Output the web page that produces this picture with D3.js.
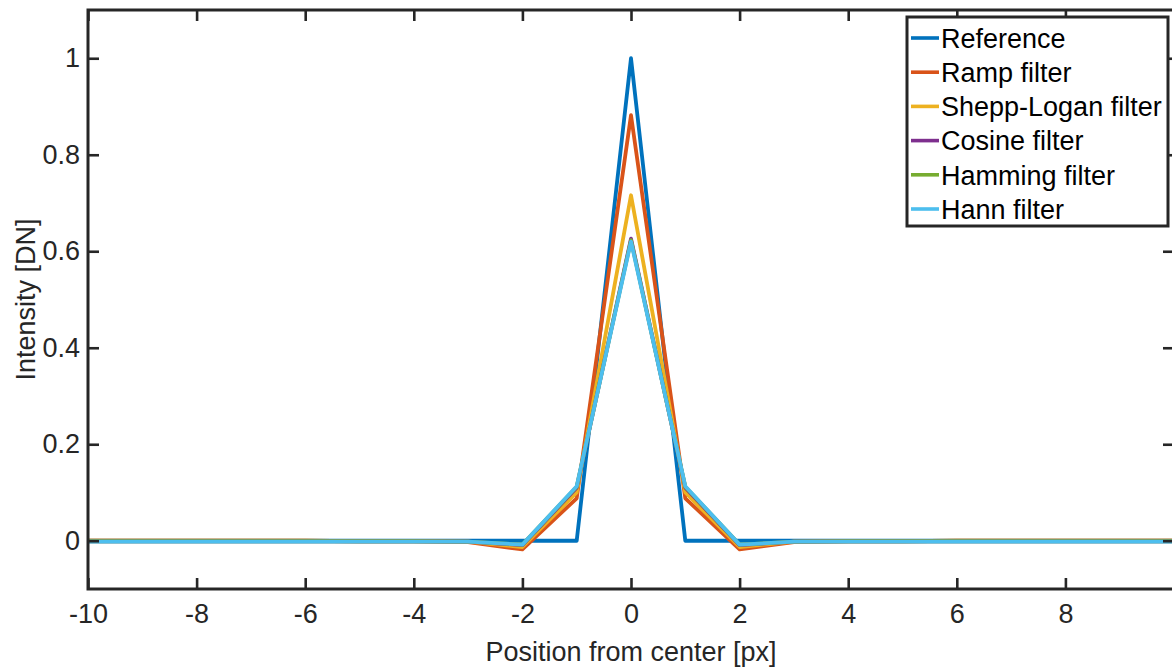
<!DOCTYPE html>
<html>
<head>
<meta charset="utf-8">
<script src="https://cdn.jsdelivr.net/npm/d3@7"></script>
<style>
  html, body { margin: 0; padding: 0; background: #fff; }
  svg { display: block; font-family: "Liberation Sans", Arial, sans-serif; }
</style>
</head>
<body>
<svg id="chart" width="1172" height="668"></svg>
<script>
// ---- data ----
const positions   = [-10, -9, -8, -7, -6, -5, -4, -3, -2, -1, 0, 1, 2, 3, 4, 5, 6, 7, 8, 9, 10];
const reference   = [0, 0, 0, 0, 0, 0, 0, 0, 0, 0, 1, 0, 0, 0, 0, 0, 0, 0, 0, 0, 0];
const rampFilter  = [0, 0, 0, 0, 0, -0.001, -0.001, -0.003, -0.018, 0.088, 0.882, 0.088, -0.018, -0.003, -0.001, -0.001, 0, 0, 0, 0, 0];
const sheppLogan  = [0, 0, 0, 0, 0, -0.001, -0.001, -0.002, -0.013, 0.100, 0.716, 0.100, -0.013, -0.002, -0.001, -0.001, 0, 0, 0, 0, 0];
const cosineFilt  = [-0.001, -0.001, -0.001, -0.001, -0.001, -0.001, -0.001, -0.002, -0.009, 0.110, 0.626, 0.110, -0.009, -0.002, -0.001, -0.001, -0.001, -0.001, -0.001, -0.001, -0.001];
const hammingFilt = [-0.001, -0.001, -0.001, -0.001, -0.001, -0.001, -0.001, -0.002, -0.008, 0.112, 0.623, 0.112, -0.008, -0.002, -0.001, -0.001, -0.001, -0.001, -0.001, -0.001, -0.001];
const hannFilt    = [-0.002, -0.002, -0.002, -0.002, -0.002, -0.002, -0.002, -0.002, -0.008, 0.113, 0.620, 0.113, -0.008, -0.002, -0.002, -0.002, -0.002, -0.002, -0.002, -0.002, -0.002];

const seriesNames  = ["Reference", "Ramp filter", "Shepp-Logan filter", "Cosine filter", "Hamming filter", "Hann filter"];
const seriesValues = [reference, rampFilter, sheppLogan, cosineFilt, hammingFilt, hannFilt];
const seriesColors = ["#0072BD", "#D95319", "#EDB120", "#7E2F8E", "#77AC30", "#4DBEEE"];

const xTicks = [-10, -8, -6, -4, -2, 0, 2, 4, 6, 8];
const yTicks = [0, 0.2, 0.4, 0.6, 0.8, 1];
const xTickLabels = ["-10", "-8", "-6", "-4", "-2", "0", "2", "4", "6", "8"];
const yTickLabels = ["0", "0.2", "0.4", "0.6", "0.8", "1"];
const xLabel = "Position from center [px]";
const yLabel = "Intensity [DN]";

// ---- layout ----
const svg = d3.select("#chart");
const L = 88, T = 10, R = 1174, B = 589;
const axisColor = "#262626";
const fs = 27;

const x = d3.scaleLinear().domain([-10, 10]).range([L, R]);
const y = d3.scaleLinear().domain([-0.1, 1.1]).range([B, T]);

// lines
const line = d3.line().x((d, i) => x(positions[i])).y(d => y(d));
seriesValues.forEach((vals, k) => {
  svg.append("path")
    .datum(vals)
    .attr("d", line)
    .attr("fill", "none")
    .attr("stroke", seriesColors[k])
    .attr("stroke-width", 3.8)
    .attr("stroke-linejoin", "round");
});

// axes (box with inward ticks)
const tickLen = 11;
const gAx = svg.append("g");
const axBottom = gAx.append("g").attr("transform", `translate(0,${B})`)
  .call(d3.axisBottom(x).tickValues(xTicks).tickSizeInner(-tickLen).tickSizeOuter(0).tickPadding(15)
    .tickFormat((d, i) => xTickLabels[i]));
const axTop = gAx.append("g").attr("transform", `translate(0,${T})`)
  .call(d3.axisTop(x).tickValues(xTicks).tickSizeInner(-tickLen).tickSizeOuter(0).tickFormat(""));
const axLeft = gAx.append("g").attr("transform", `translate(${L},0)`)
  .call(d3.axisLeft(y).tickValues(yTicks).tickSizeInner(-tickLen).tickSizeOuter(0).tickPadding(8)
    .tickFormat((d, i) => yTickLabels[i]));
const axRight = gAx.append("g").attr("transform", `translate(${R},0)`)
  .call(d3.axisRight(y).tickValues(yTicks).tickSizeInner(-tickLen).tickSizeOuter(0).tickFormat(""));

[axBottom, axTop, axLeft, axRight].forEach(g => {
  g.select(".domain").remove();
  g.selectAll(".tick line").attr("stroke", axisColor).attr("stroke-width", 2.6);
  g.selectAll(".tick text").attr("fill", axisColor).attr("font-size", fs)
    .attr("font-family", "Liberation Sans, Arial, sans-serif");
});

gAx.append("rect")
  .attr("x", L).attr("y", T).attr("width", R - L).attr("height", B - T)
  .attr("fill", "none").attr("stroke", axisColor).attr("stroke-width", 3);

// axis labels
svg.append("text")
  .attr("x", x(0))
  .attr("y", 661)
  .attr("text-anchor", "middle")
  .attr("fill", axisColor)
  .attr("font-size", fs)
  .text(xLabel);

svg.append("text")
  .attr("transform", `translate(35,${(T + B) / 2}) rotate(-90)`)
  .attr("text-anchor", "middle")
  .attr("fill", axisColor)
  .attr("font-size", fs)
  .text(yLabel);

// legend
const lg = svg.append("g");
const lgX = 907, lgY = 17, lgW = 261, lgH = 209;
lg.append("rect")
  .attr("x", lgX).attr("y", lgY).attr("width", lgW).attr("height", lgH)
  .attr("fill", "#fff").attr("stroke", axisColor).attr("stroke-width", 3);
const rowY = d3.scaleLinear().domain([0, seriesNames.length - 1]).range([38, 209]);
seriesNames.forEach((name, k) => {
  const yy = rowY(k);
  lg.append("line")
    .attr("x1", 911).attr("x2", 939).attr("y1", yy).attr("y2", yy)
    .attr("stroke", seriesColors[k]).attr("stroke-width", 3.6);
  lg.append("text")
    .attr("x", 941).attr("y", yy)
    .attr("dy", "0.36em")
    .attr("fill", "#000")
    .attr("font-size", fs)
    .text(name);
});
</script>
</body>
</html>
